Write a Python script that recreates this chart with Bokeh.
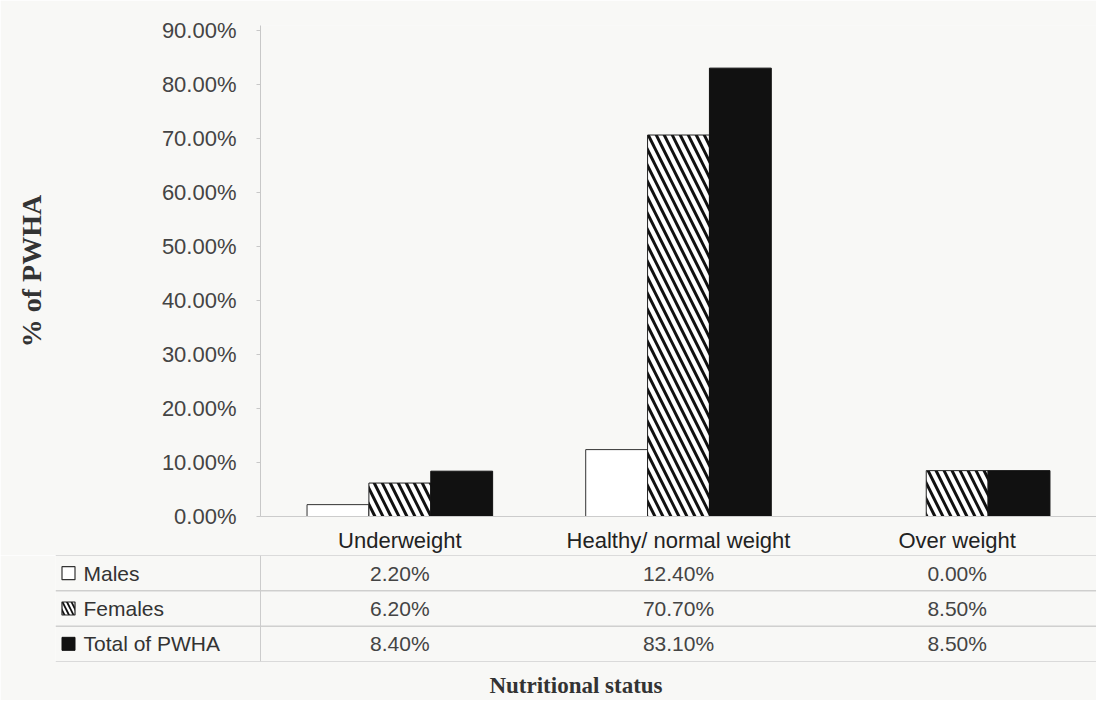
from bokeh.plotting import figure
from bokeh.models import (FactorRange, Range1d, SingleIntervalTicker, PrintfTickFormatter,
                          FixedTicker, ColumnDataSource, Span)
from bokeh.transform import dodge
from bokeh.core.properties import value
from bokeh.embed import file_html
from bokeh.resources import INLINE

categories = ["Underweight", "Healthy/ normal weight", "Over weight"]
series = ["Males", "Females", "Total of PWHA"]
males = [2.2, 12.4, 0.0]
females = [6.2, 70.7, 8.5]
total = [8.4, 83.1, 8.5]

BG = "#f8f8f6"
SANS = "Liberation Sans"
SERIF = "Liberation Serif"
W = 1096
FRAME_LEFT = 260
TABLE_LEFT = 55

src = ColumnDataSource(dict(cat=categories, males=males, females=females, total=total))

p = figure(x_range=FactorRange(*categories), y_range=Range1d(0, 91),
           width=W, height=555, output_backend="svg", toolbar_location=None,
           min_border_left=FRAME_LEFT, min_border_right=0, min_border_top=25, min_border_bottom=38,
           background_fill_color=BG, border_fill_color=BG, outline_line_color=None)

bw = 0.222
p.vbar(x=dodge("cat", -bw, range=p.x_range), top="males", width=bw, source=src,
       fill_color="white", line_color="#333333", line_width=1)
p.vbar(x=dodge("cat", 0, range=p.x_range), top="females", width=bw, source=src,
       fill_color="white", line_color="#222222", line_width=1,
       hatch_pattern="\\", hatch_color="#111111", hatch_scale=16, hatch_weight=3)
p.vbar(x=dodge("cat", bw, range=p.x_range), top="total", width=bw, source=src,
       fill_color="#111111", line_color="#111111")

p.xgrid.visible = False
p.ygrid.visible = False
p.yaxis.ticker = SingleIntervalTicker(interval=10)
p.yaxis.formatter = PrintfTickFormatter(format="%.2f%%")
p.yaxis.major_label_text_font = SANS
p.yaxis.major_label_text_font_size = "22px"
p.yaxis.major_label_text_color = "#444444"
p.yaxis.axis_line_color = "#c8c8c8"
p.yaxis.major_tick_line_color = "#c8c8c8"
p.yaxis.major_tick_out = 4
p.yaxis.major_tick_in = 0
p.yaxis.minor_tick_line_color = None
p.yaxis.major_label_standoff = 20
p.yaxis.axis_label = "% of PWHA"
p.yaxis.axis_label_text_font = SERIF
p.yaxis.axis_label_text_font_style = "bold"
p.yaxis.axis_label_text_font_size = "28px"
p.yaxis.axis_label_text_color = "#333333"
p.yaxis.axis_label_standoff = 112

p.xaxis.major_label_text_font = SANS
p.xaxis.major_label_text_font_size = "22px"
p.xaxis.major_label_text_color = "#222222"
p.xaxis.axis_line_color = "#cccccc"
p.xaxis.major_tick_line_color = None
p.xaxis.major_label_standoff = 5

# ---- data table below ----
cat_px = (W - FRAME_LEFT) / len(categories)
left_units = (FRAME_LEFT - TABLE_LEFT) / cat_px
t = figure(x_range=Range1d(-left_units, len(categories)), y_range=FactorRange(*series[::-1]),
           width=W, height=145, output_backend="svg", toolbar_location=None,
           min_border_left=TABLE_LEFT, min_border_right=0, min_border_top=0, min_border_bottom=34,
           background_fill_color=BG, border_fill_color=BG, outline_line_color=None)
t.xgrid.visible = False
t.ygrid.visible = False
t.yaxis.visible = False
t.xaxis.ticker = FixedTicker(ticks=[])
t.xaxis.axis_line_color = None
t.xaxis.major_tick_line_color = None
t.xaxis.minor_tick_line_color = None
t.xaxis.axis_label = "Nutritional status"
t.xaxis.axis_label_text_font = SERIF
t.xaxis.axis_label_text_font_style = "bold"
t.xaxis.axis_label_text_font_size = "23px"
t.xaxis.axis_label_text_color = "#333333"
t.xaxis.axis_label_standoff = 11

for yv in range(len(series) + 1):
    t.add_layout(Span(location=yv, dimension="width", line_color="#bbbbbb", line_width=1))
t.add_layout(Span(location=0, dimension="height", line_color="#cccccc", line_width=1))

xs, ys, txt = [], [], []
for s, vals in zip(series, [males, females, total]):
    for i, v in enumerate(vals):
        xs.append(i + 0.5)
        ys.append(s)
        txt.append(f"{v:.2f}%")
t.text(x=xs, y=ys, text=txt, text_align="center", text_baseline="middle",
       text_font=value(SANS), text_font_size="21px", text_color="#444444")

mx = -left_units + 13.0 / cat_px
t.scatter(x=[mx], y=[series[0]], marker="square", size=13, fill_color="white",
          line_color="#333333", line_width=1.2)
t.scatter(x=[mx], y=[series[1]], marker="square", size=13, fill_color="white",
          line_color="#222222", line_width=1.2, hatch_pattern="\\", hatch_color="#111111",
          hatch_scale=9, hatch_weight=1.8)
t.scatter(x=[mx], y=[series[2]], marker="square", size=13, fill_color="#111111",
          line_color="#111111")
t.text(x=[mx + 15.0 / cat_px] * 3, y=series, text=series, text_align="left",
       text_baseline="middle", text_font=value(SANS), text_font_size="21px",
       text_color="#333333")

open("out.html", "w").write(file_html([p, t], INLINE))
